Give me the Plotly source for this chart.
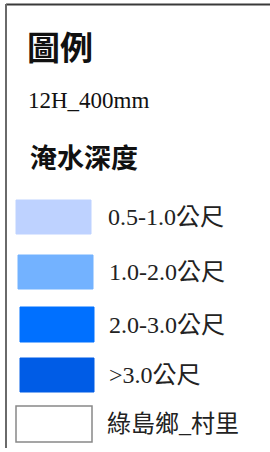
import plotly.graph_objects as go

# Legend content
title_text = "圖例"
scenario_text = "12H_400mm"
section_text = "淹水深度"
class_labels = ["0.5-1.0公尺", "1.0-2.0公尺", "2.0-3.0公尺", ">3.0公尺", "綠島鄉_村里"]
class_colors = ["#BED2FF", "#73B2FF", "#0070FF", "#005CE6", "#FFFFFF"]
class_outline = ["#BED2FF", "#73B2FF", "#0070FF", "#005CE6", "#888888"]

W, H = 270, 452

# layout positions (pixels)
sw_x0 = [16, 18, 20, 20, 16]
sw_x1 = [91, 93, 94, 94, 92]
sw_y0 = [200, 255, 307, 358, 406]
sw_y1 = [234, 289, 342, 392, 442]
label_x = [106, 107, 107, 107, 105]

fig = go.Figure()

shapes = []
for i, lab in enumerate(class_labels):
    shapes.append(dict(type="rect", xref="x", yref="y",
                       x0=sw_x0[i], x1=sw_x1[i], y0=sw_y0[i], y1=sw_y1[i],
                       fillcolor=class_colors[i],
                       line=dict(color=class_outline[i], width=1.5 if i == 4 else 1)))
# frame lines
shapes.append(dict(type="line", xref="x", yref="y", x0=6, x1=270, y0=4.5, y1=4.5,
                   line=dict(color="#3a3a3a", width=2)))
shapes.append(dict(type="line", xref="x", yref="y", x0=6, x1=6, y0=4, y1=448,
                   line=dict(color="#6a6a6a", width=2)))

ann = []
serif = "Liberation Serif, Times New Roman, Noto Sans CJK TC, serif"
cjk_bold = "Noto Sans CJK TC, sans-serif"
ann.append(dict(x=25, y=46, text="<b>" + title_text + "</b>", showarrow=False,
                xanchor="left", yanchor="middle", font=dict(family=cjk_bold, size=33, color="#111111")))
ann.append(dict(x=26, y=100, text=scenario_text, showarrow=False,
                xanchor="left", yanchor="middle", font=dict(family=serif, size=23, color="#111111")))
ann.append(dict(x=28, y=156, text="<b>" + section_text + "</b>", showarrow=False,
                xanchor="left", yanchor="middle", font=dict(family=cjk_bold, size=27, color="#111111")))
for i, lab in enumerate(class_labels):
    ann.append(dict(x=label_x[i], y=(sw_y0[i] + sw_y1[i]) / 2, text=lab, showarrow=False,
                    xanchor="left", yanchor="middle",
                    font=dict(family=serif, size=24, color="#222222")))

fig.update_layout(
    width=W, height=H, autosize=False,
    margin=dict(l=0, r=0, t=0, b=0),
    paper_bgcolor="white", plot_bgcolor="white",
    xaxis=dict(range=[0, W], visible=False, fixedrange=True),
    yaxis=dict(range=[H, 0], visible=False, fixedrange=True),
    shapes=shapes, annotations=ann, showlegend=False,
)

fig.write_html("out.html", config={"displayModeBar": False},
               post_script="document.body.style.margin='0';document.body.style.overflow='hidden';")
